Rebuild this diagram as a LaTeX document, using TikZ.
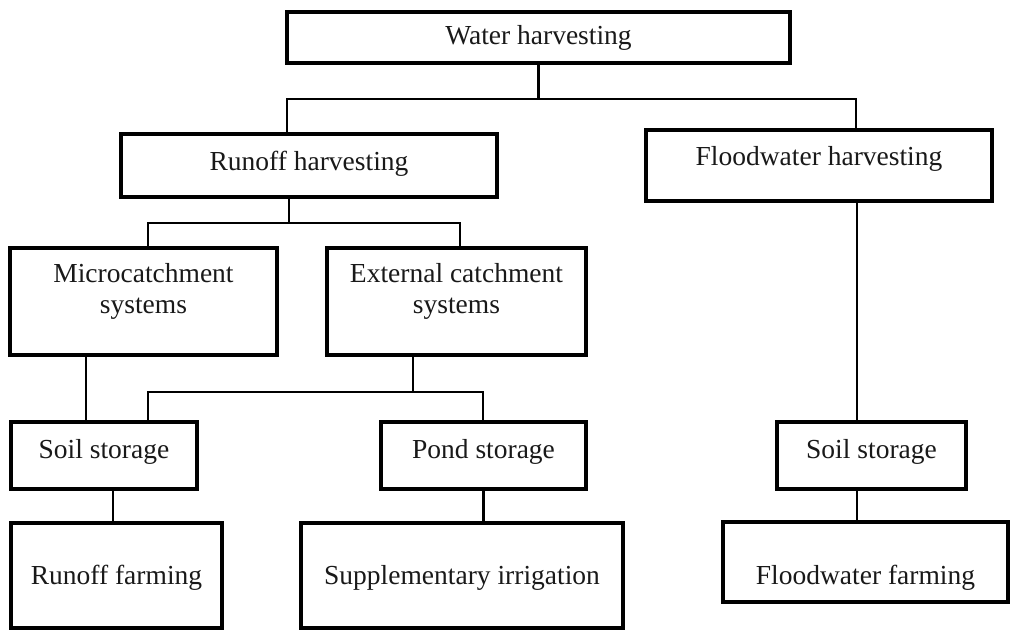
\documentclass[tikz,border=0pt]{standalone}
\usepackage{fontspec}
\setmainfont{Liberation Serif}
\begin{document}
\begin{tikzpicture}[x=1bp,y=-1bp,
  box/.style={draw=black, line width=4bp, inner sep=0pt, fill=white},
  lab/.style={font=\fontsize{27.5bp}{31bp}\selectfont, align=center, text=black!90, inner sep=0pt},
  conn/.style={draw=black, line width=2.8bp}]
\useasboundingbox (0,0) rectangle (1013,631);
% boxes
\node[box, minimum width=503bp, minimum height=51bp, label={[lab]center:Water harvesting}] (wh) at (538.5,37.5) {};
\node[box, minimum width=376bp, minimum height=63bp, label={[lab,yshift=2bp]center:Runoff harvesting}] (rh) at (309,165.5) {};
\node[box, minimum width=346bp, minimum height=71bp, label={[lab,yshift=7bp]center:Floodwater harvesting}] (fh) at (819,165.5) {};
\node[box, minimum width=267bp, minimum height=107bp, label={[lab,yshift=10bp]center:Microcatchment\\systems}] (mc) at (143.5,301.5) {};
\node[box, minimum width=259bp, minimum height=107bp, label={[lab,yshift=10bp]center:External catchment\\systems}] (ec) at (456.5,301.5) {};
\node[box, minimum width=186bp, minimum height=67bp, label={[lab,yshift=4bp]center:Soil storage}] (ssa) at (104,455.5) {};
\node[box, minimum width=205bp, minimum height=67bp, label={[lab,yshift=4bp]center:Pond storage}] (ps) at (483.5,455.5) {};
\node[box, minimum width=189bp, minimum height=67bp, label={[lab,yshift=4bp]center:Soil storage}] (ssb) at (871.5,455.5) {};
\node[box, minimum width=211bp, minimum height=105bp, label={[lab,yshift=-2bp]center:Runoff farming}] (rf) at (116.5,575.5) {};
\node[box, minimum width=322bp, minimum height=105bp, label={[lab,yshift=-2bp]center:Supplementary irrigation}] (si) at (462,575.5) {};
\node[box, minimum width=285bp, minimum height=80bp, label={[lab,yshift=-16bp]center:Floodwater farming}] (ff) at (865.5,562) {};
% bus coordinates
\coordinate (b1l) at (287,99);
\coordinate (b1r) at (856,99);
\coordinate (b2l) at (148,223);
\coordinate (b2r) at (460,223);
\coordinate (b3l) at (148,392);
\coordinate (b3r) at (483,392);
\coordinate (xa) at (86,0);
\coordinate (xb) at (289,0);
\coordinate (xc) at (413,0);
\coordinate (xd) at (113,0);
\coordinate (xe) at (857,0);
% connectors
\draw[conn] (wh.south) -- (wh.south |- b1l);
\draw[conn] (rh.north -| b1l) -- (b1l) -- (b1r) -- (fh.north -| b1r);
\draw[conn] (rh.south -| xb) -- (b2l -| xb);
\draw[conn] (mc.north -| b2l) -- (b2l) -- (b2r) -- (ec.north -| b2r);
\draw[conn] (mc.south -| xa) -- (ssa.north -| xa);
\draw[conn] (ec.south -| xc) -- (b3l -| xc);
\draw[conn] (ssa.north -| b3l) -- (b3l) -- (b3r) -- (ps.north -| b3r);
\draw[conn] (ssa.south -| xd) -- (rf.north -| xd);
\draw[conn] (ps.south) -- (si.north -| ps.south);
\draw[conn] (fh.south -| xe) -- (ssb.north -| xe);
\draw[conn] (ssb.south -| xe) -- (ff.north -| xe);
\end{tikzpicture}
\end{document}
